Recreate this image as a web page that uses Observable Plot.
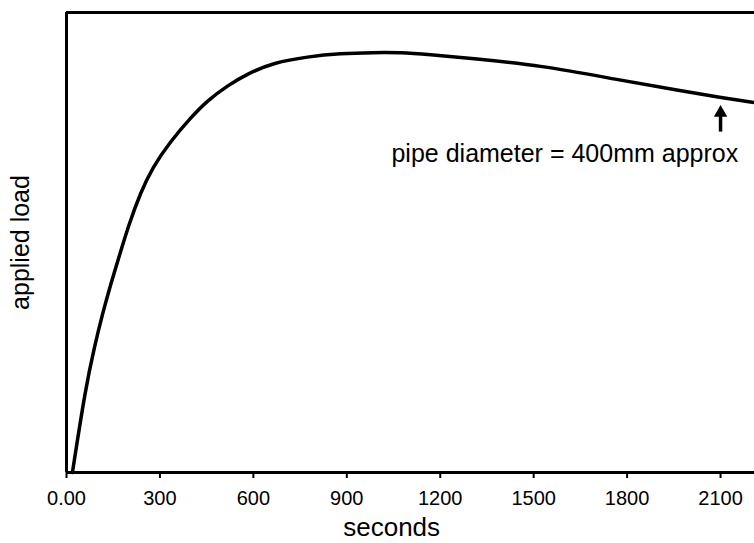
<!DOCTYPE html>
<html>
<head>
<meta charset="utf-8">
<script src="https://cdn.jsdelivr.net/npm/d3@7"></script>
<script src="https://cdn.jsdelivr.net/npm/@observablehq/plot@0.6"></script>
<style>
  html, body { margin: 0; padding: 0; background: #fff; overflow: hidden; }
  #chart svg { display: block; }
</style>
</head>
<body>
<div id="chart"></div>
<script>
// Time (seconds)
const seconds = [19, 61, 90, 116, 141, 167, 199, 238, 276, 334, 398, 453, 517, 581, 665, 774, 880, 986, 1073, 1159, 1307, 1522, 1769, 1972, 2100, 2209];
// Applied load (relative units, unlabelled axis)
const load = [0, 18.3, 27.4, 34.6, 40.7, 46.5, 53.7, 60.9, 66.3, 72.0, 77.1, 80.9, 84.1, 86.7, 89.1, 90.4, 91.1, 91.3, 91.3, 90.9, 90.0, 88.5, 85.4, 83.0, 81.5, 80.4];
// X tick values and labels
const xTicks = [0, 300, 600, 900, 1200, 1500, 1800, 2100];
const xTickLabels = ["0.00", "300", "600", "900", "1200", "1500", "1800", "2100"];
// Annotation
const noteText = ["pipe diameter = 400mm approx"];
const noteX = [1600];
const noteY = [69.3];
const arrowX = [2100];
const arrowBase = [74.0];
const arrowTip = [78.6];

const data = seconds.map((s, i) => ({s, v: load[i]}));
const font = "'Liberation Sans', Arial, Helvetica, sans-serif";

const chart = Plot.plot({
  width: 754,
  height: 543,
  marginLeft: 66,
  marginRight: 0,
  marginTop: 12,
  marginBottom: 71,
  style: {fontFamily: font, color: "#000", background: "#fff"},
  x: {domain: [0, 2209]},
  y: {domain: [0, 100], axis: null},
  marks: [
    Plot.ruleY([0], {stroke: "#000", strokeWidth: 3}),
    Plot.ruleY([100], {stroke: "#000", strokeWidth: 3}),
    Plot.ruleX([0], {stroke: "#000", strokeWidth: 3}),
    Plot.axisX({
      ticks: xTicks,
      tickFormat: (d) => xTickLabels[xTicks.indexOf(d)],
      tickSize: 6,
      tickPadding: 12,
      fontSize: 20,
      strokeWidth: 2,
      label: null
    }),
    Plot.line(data, {x: "s", y: "v", stroke: "#000", strokeWidth: 3.5, curve: "basis"}),
    Plot.ruleX(arrowX, {x: (d) => d, y1: arrowBase[0], y2: arrowTip[0] - 1, stroke: "#000", strokeWidth: 3.5}),
    Plot.dot(arrowX, {x: (d) => d, y: arrowTip[0] - 0.4, symbol: "triangle", r: 5, fill: "#000", stroke: "none"}),
    Plot.text(noteText, {x: noteX, y: noteY, text: (d) => d, fontSize: 25, fill: "#000"}),
    Plot.text(["seconds"], {x: [1044], frameAnchor: "bottom", dy: 63, text: (d) => d, fontSize: 26, fill: "#000"}),
    Plot.text(["applied load"], {frameAnchor: "left", textAnchor: "middle", dx: -46, rotate: -90, text: (d) => d, fontSize: 25, fill: "#000"})
  ]
});
document.getElementById("chart").appendChild(chart);
</script>
</body>
</html>
